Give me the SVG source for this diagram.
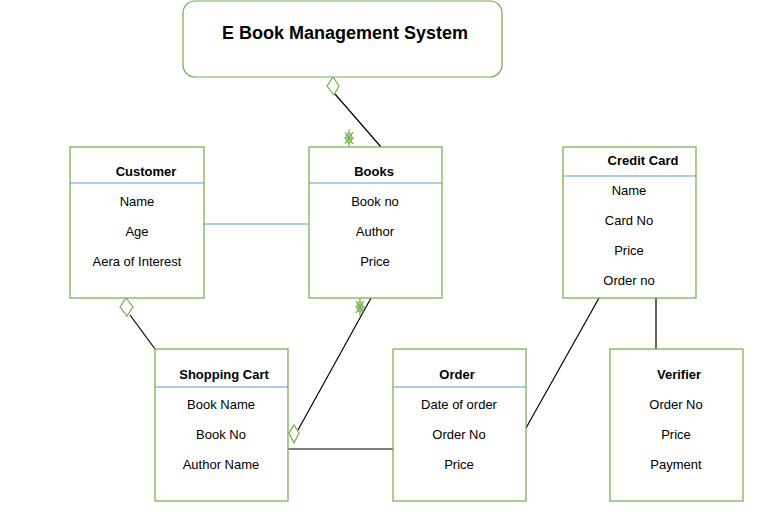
<svg xmlns="http://www.w3.org/2000/svg" width="783" height="519" viewBox="0 0 783 519">
<style>
.box{fill:#fff;stroke:#70ad47;stroke-width:1.2}
.sep{stroke:#5b9bd5;stroke-width:1.2}
.t{font-family:"Liberation Sans",Arial,sans-serif;font-size:13px;fill:#000;text-anchor:middle}
.b{font-weight:bold}
.ln{stroke:#000;stroke-width:1.2;fill:none}
.dia{fill:#fff;stroke:#70ad47;stroke-width:1.2}
.spk{fill:none;stroke:#70ad47;stroke-width:1.2}
</style>
<rect width="783" height="519" fill="#fff"/>
<g id="connectors">
<line class="ln" x1="335" y1="94" x2="381" y2="147"/>
<line x1="204" y1="224" x2="309" y2="224" stroke="#5b9bd5" stroke-width="1.2"/>
<line class="ln" x1="371" y1="298" x2="298" y2="430"/>
<line class="ln" x1="130" y1="315" x2="155" y2="349"/>
<line class="ln" x1="288" y1="449" x2="393" y2="449"/>
<line class="ln" x1="526" y1="428" x2="599" y2="298"/>
<line class="ln" x1="656" y1="298" x2="656" y2="349"/>
<polygon class="dia" points="333,77 339,86 334,95 327,86"/>
<polygon class="dia" points="126,298 133,307 127,316 120,307"/>
<polygon class="dia" points="294,425 299,433 294,443 289,433"/>
<g class="spk">
<path d="M349,129 L349,147 M345,132 L353,144 M353,132 L345,144 M344,138 L354,138"/>
<ellipse cx="349" cy="138" rx="3" ry="5"/>
</g>
<g class="spk">
<path d="M360,298 L360,316 M356,301 L364,313 M364,301 L356,313 M355,307 L365,307"/>
<ellipse cx="360" cy="307" rx="3" ry="5"/>
</g>
</g>
<g id="title">
<rect class="box" x="183" y="1" width="319" height="76" rx="12"/>
<text class="t b" x="345" y="39" style="font-size:18px">E Book Management System</text>
</g>
<g id="customer">
<rect class="box" x="70" y="147" width="134" height="151"/>
<line class="sep" x1="70" y1="183" x2="204" y2="183"/>
<text class="t b" x="146" y="176">Customer</text>
<text class="t" x="137" y="206">Name</text>
<text class="t" x="137" y="236">Age</text>
<text class="t" x="137" y="266">Aera of Interest</text>
</g>
<g id="books">
<rect class="box" x="309" y="147" width="133" height="151"/>
<line class="sep" x1="309" y1="183" x2="442" y2="183"/>
<text class="t b" x="374" y="176">Books</text>
<text class="t" x="375" y="206">Book no</text>
<text class="t" x="375" y="236">Author</text>
<text class="t" x="375" y="266">Price</text>
</g>
<g id="creditcard">
<rect class="box" x="563" y="147" width="133" height="151"/>
<line class="sep" x1="563" y1="176" x2="696" y2="176"/>
<text class="t b" x="643" y="165">Credit Card</text>
<text class="t" x="629" y="195">Name</text>
<text class="t" x="629" y="225">Card No</text>
<text class="t" x="629" y="255">Price</text>
<text class="t" x="629" y="285">Order no</text>
</g>
<g id="shoppingcart">
<rect class="box" x="155" y="349" width="133" height="152"/>
<line class="sep" x1="155" y1="387" x2="288" y2="387"/>
<text class="t b" x="224" y="379">Shopping Cart</text>
<text class="t" x="221" y="409">Book Name</text>
<text class="t" x="221" y="439">Book No</text>
<text class="t" x="221" y="469">Author Name</text>
</g>
<g id="order">
<rect class="box" x="393" y="349" width="133" height="152"/>
<line class="sep" x1="393" y1="387" x2="526" y2="387"/>
<text class="t b" x="457" y="379">Order</text>
<text class="t" x="459" y="409">Date of order</text>
<text class="t" x="459" y="439">Order No</text>
<text class="t" x="459" y="469">Price</text>
</g>
<g id="verifier">
<rect class="box" x="610" y="349" width="133" height="152"/>
<text class="t b" x="679" y="379">Verifier</text>
<text class="t" x="676" y="409">Order No</text>
<text class="t" x="676" y="439">Price</text>
<text class="t" x="676" y="469">Payment</text>
</g>
</svg>
